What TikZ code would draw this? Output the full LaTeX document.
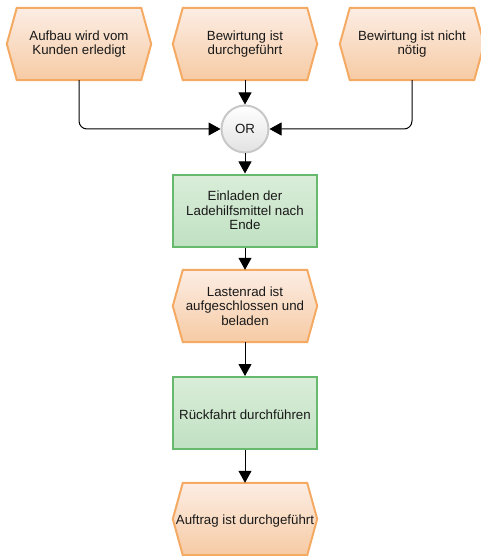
\documentclass[tikz,border=0pt]{standalone}
\usepackage{fontspec}
\setmainfont{Liberation Sans}
\usetikzlibrary{arrows.meta,calc,backgrounds}

\definecolor{evtline}{RGB}{245,170,100}
\definecolor{evttop}{RGB}{252,237,228}
\definecolor{evtbot}{RGB}{246,203,164}
\definecolor{fnline}{RGB}{103,185,110}
\definecolor{fntop}{RGB}{218,237,216}
\definecolor{fnbot}{RGB}{192,225,195}
\definecolor{orline}{RGB}{200,200,200}
\definecolor{orbot}{RGB}{226,226,226}

\tikzset{
  lbl/.style={font=\fontsize{13.3}{14.5}\selectfont, align=center, text=black!90},
  % a taller first line lowers the label block slightly inside its box
  lowlbl/.style={lbl, execute at begin node={\rule{0pt}{14pt}}},
  evt/.style={lowlbl, rectangle, minimum width=144pt, minimum height=72pt, inner sep=0pt},
  evtshape/.style={draw=evtline, line width=2pt, top color=evttop, bottom color=evtbot, line join=miter},
  fn/.style={lowlbl, rectangle, draw=fnline, line width=2pt, top color=fntop, bottom color=fnbot,
             minimum width=144pt, minimum height=72pt, inner sep=0pt},
  orgate/.style={lbl, circle, draw=orline, line width=2pt, top color=white, bottom color=orbot,
             minimum size=47pt, inner sep=0pt},
  flow/.style={line width=1pt, black, -{Triangle[length=12pt,width=13pt]}, rounded corners=8pt}
}

\begin{document}
\begin{tikzpicture}[x=1pt,y=-1pt]
\useasboundingbox (0,0) rectangle (480,556);

% events
\node[evt] (e1) at (79,44)   {Aufbau wird vom\\Kunden erledigt};
\node[evt] (e2) at (245,44)  {Bewirtung ist\\durchgeführt};
\node[evt] (e3) at (412,44)  {Bewirtung ist nicht\\nötig};
\node[evt] (e4) at (245,306) {Lastenrad ist\\aufgeschlossen und\\beladen};
\node[evt] (e5) at (245,519) {Auftrag ist durchgeführt};

% functions and connector
\node[orgate] (or) at (245,129) {OR};
\node[fn] (f1) at (245,210.5) {Einladen der\\Ladehilfsmittel nach\\Ende};
\node[fn] (f2) at (245,413) {Rückfahrt durchführen};

% hexagonal event outlines behind the labels
\begin{scope}[on background layer]
\foreach \n in {e1,e2,e3,e4,e5}
  \path[evtshape] ($(\n.north west)+(10,0)$) -- ($(\n.north east)+(-10,0)$) -- (\n.east)
     -- ($(\n.south east)+(-10,0)$) -- ($(\n.south west)+(10,0)$) -- (\n.west) -- cycle;
\end{scope}

% control flow
\draw[flow] (e1.south) |- (or.west);
\draw[flow] (e3.south) |- (or.east);
\draw[flow] (e2.south) -- (or.north);
\draw[flow] (or.south) -- (f1.north);
\draw[flow] (f1.south) -- (e4.north);
\draw[flow] (e4.south) -- (f2.north);
\draw[flow] (f2.south) -- (e5.north);
\end{tikzpicture}
\end{document}
